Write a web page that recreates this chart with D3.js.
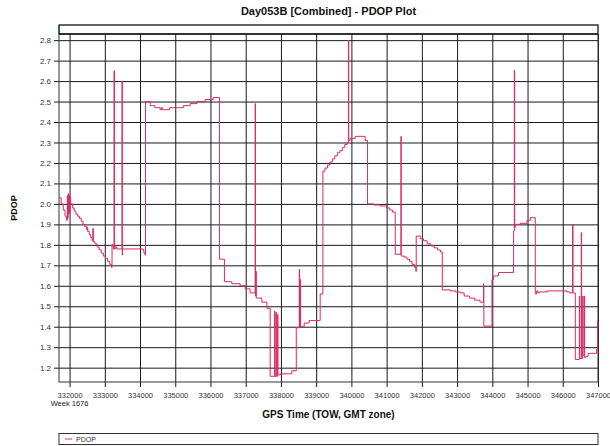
<!DOCTYPE html>
<html>
<head>
<meta charset="utf-8">
<script src="https://cdn.jsdelivr.net/npm/d3@7"></script>
<style>
  html, body { margin: 0; padding: 0; background: #fff; }
  svg { display: block; font-family: "Liberation Sans", Arial, Helvetica, sans-serif; }
</style>
</head>
<body>
<svg id="chart" width="610" height="446"></svg>
<script>
// GPS time of week (s) and PDOP samples; each sample holds until the next one.
const gpsTime = [
  331700, 331760, 331820, 331870, 331910, 331935, 331945, 331960, 331972, 331985,
  331995, 332010, 332030, 332080, 332130, 332180, 332230, 332280, 332330, 332380,
  332430, 332480, 332500, 332515, 332560, 332600, 332640, 332660, 332675, 332720,
  332780, 332840, 332900, 332960, 333020, 333080, 333140, 333190, 333205, 333240,
  333262, 333272, 333300, 333340, 333488, 333496, 333504, 334080, 334110, 334140,
  334155, 334290, 334420, 334570, 334610, 334640, 334840, 335230, 335420, 335620,
  335850, 336075, 336254, 336396, 336606, 336842, 336984, 337126, 337268, 337278,
  337290, 337300, 337458, 337600, 337694, 337820, 337830, 337860, 337870, 337905,
  337915, 337980, 338310, 338435, 338520, 338530, 338545, 338555, 338660, 338800,
  339114, 339191, 339250, 339320, 339390, 339460, 339530, 339600, 339670, 339740,
  339810, 339880, 339915, 339925, 339966, 340108, 340390, 340458, 340628, 340818,
  341008, 341090, 341170, 341244, 341406, 341415, 341500, 341576, 341650, 341720,
  341790, 341832, 341840, 341955, 342050, 342150, 342250, 342350, 342450, 342530,
  342580, 342806, 342950, 343090, 343200, 343350, 343500, 343650, 343750, 343760,
  343990, 344036, 344178, 344604, 344624, 344634, 344652, 344794, 344984, 345078,
  345220, 345260, 345290, 345330, 345552, 346120, 346200, 346280, 346290, 346356,
  346470, 346480, 346525, 346535, 346565, 346575, 346610, 346620, 346660, 346720,
  346960, 346990, 347000
];
const pdop = [
  2.03, 2.00, 1.97, 1.94, 1.92, 2.04, 1.93, 2.05, 1.95, 2.04,
  1.96, 2.03, 2.00, 1.98, 1.965, 1.95, 1.94, 1.93, 1.915, 1.90,
  1.89, 1.875, 1.885, 1.865, 1.85, 1.835, 1.82, 1.88, 1.815, 1.805,
  1.79, 1.775, 1.76, 1.745, 1.735, 1.72, 1.705, 1.69, 1.80, 1.78,
  2.65, 1.78, 1.79, 1.78, 2.60, 1.75, 1.78, 1.775, 1.76, 1.75,
  2.50, 2.48, 2.47, 2.46, 2.47, 2.46, 2.47, 2.48, 2.49, 2.50,
  2.51, 2.52, 1.73, 1.62, 1.61, 1.60, 1.585, 1.565, 2.49, 1.55,
  1.67, 1.54, 1.52, 1.49, 1.158, 1.476, 1.158, 1.47, 1.158, 1.46,
  1.165, 1.17, 1.185, 1.395, 1.68, 1.40, 1.63, 1.40, 1.418, 1.43,
  1.56, 2.16, 2.175, 2.19, 2.205, 2.22, 2.235, 2.25, 2.26, 2.275,
  2.29, 2.30, 2.80, 2.31, 2.32, 2.33, 2.31, 2.00, 1.995, 1.99,
  1.98, 1.97, 1.96, 1.754, 2.33, 1.745, 1.74, 1.73, 1.72, 1.705,
  1.69, 1.67, 1.843, 1.83, 1.82, 1.805, 1.795, 1.785, 1.775, 1.765,
  1.58, 1.575, 1.57, 1.565, 1.55, 1.54, 1.53, 1.52, 1.61, 1.403,
  1.631, 1.648, 1.665, 1.867, 2.653, 1.885, 1.90, 1.905, 1.92, 1.933,
  1.56, 1.575, 1.565, 1.57, 1.575, 1.57, 1.565, 1.90, 1.565, 1.24,
  1.55, 1.245, 1.86, 1.245, 1.55, 1.26, 1.55, 1.25, 1.255, 1.27,
  1.29, 1.43, 1.43
];

const xTicks = d3.range(332000, 347001, 1000);
const yTicks = [1.2, 1.3, 1.4, 1.5, 1.6, 1.7, 1.8, 1.9, 2.0, 2.1, 2.2, 2.3, 2.4, 2.5, 2.6, 2.7, 2.8];
const weekLabel = "Week 1676";
const seriesName = "PDOP";

const svg = d3.select("#chart");
const plot = { left: 59, right: 598, top: 34, bottom: 382 };

const x = d3.scaleLinear().domain([331700, 347000]).range([plot.left, plot.right]);
const y = d3.scaleLinear().domain([1.13, 2.83]).range([plot.bottom, plot.top]);

// Title
svg.append("text")
  .attr("x", (plot.left + plot.right) / 2).attr("y", 15)
  .attr("text-anchor", "middle")
  .attr("font-size", 11).attr("font-weight", "bold").attr("fill", "#111")
  .text("Day053B [Combined] - PDOP Plot");

// Header strip above the plot
svg.append("rect")
  .attr("x", plot.left).attr("y", 25)
  .attr("width", plot.right - plot.left).attr("height", 9)
  .attr("fill", "#fff").attr("stroke", "#333").attr("stroke-width", 1);
svg.append("line")
  .attr("x1", plot.left).attr("x2", plot.left).attr("y1", 25).attr("y2", 34)
  .attr("stroke", "#1f8a5c").attr("stroke-width", 1.5);

// Grid + axes
const gx = svg.append("g")
  .attr("transform", `translate(0,${plot.bottom})`)
  .call(d3.axisBottom(x).tickValues(xTicks).tickFormat(d3.format("d"))
    .tickSize(-(plot.bottom - plot.top)).tickSizeOuter(0));
gx.select(".domain").remove();
gx.selectAll(".tick line").attr("stroke", "#1a1a1a").attr("y2", 5)
  .attr("y1", -(plot.bottom - plot.top));
gx.selectAll(".tick text")
  .attr("y", 15.5).attr("dy", 0)
  .attr("font-size", 7.5).attr("fill", "#333")
  .attr("font-family", "Liberation Sans, Arial, sans-serif");

const gy = svg.append("g")
  .attr("transform", `translate(${plot.left},0)`)
  .call(d3.axisLeft(y).tickValues(yTicks).tickFormat(d3.format(".1f"))
    .tickSize(-(plot.right - plot.left)).tickSizeOuter(0));
gy.select(".domain").remove();
gy.selectAll(".tick line").attr("stroke", "#1a1a1a")
  .attr("x1", -5).attr("x2", plot.right - plot.left);
gy.selectAll(".tick text")
  .attr("x", -8).attr("dy", "0.32em")
  .attr("font-size", 8).attr("fill", "#333")
  .attr("font-family", "Liberation Sans, Arial, sans-serif");

// Week label under the first tick
svg.append("text")
  .attr("x", x(xTicks[0])).attr("y", 406)
  .attr("text-anchor", "middle")
  .attr("font-size", 7.5).attr("fill", "#222")
  .text(weekLabel);

// Plot frame
svg.append("rect")
  .attr("x", plot.left).attr("y", 25)
  .attr("width", plot.right - plot.left).attr("height", plot.bottom - 25)
  .attr("fill", "none").attr("stroke", "#333").attr("stroke-width", 1);
svg.append("line")
  .attr("x1", plot.left).attr("x2", plot.right).attr("y1", plot.top).attr("y2", plot.top)
  .attr("stroke", "#111").attr("stroke-width", 1.5);

// PDOP series
const data = gpsTime.map((t, i) => ({ t, v: pdop[i] }));
svg.append("path")
  .datum(data)
  .attr("fill", "none")
  .attr("stroke", "#dc2a62")
  .attr("stroke-width", 1)
  .attr("d", d3.line().x(d => x(d.t)).y(d => y(d.v)).curve(d3.curveStepAfter));

// Axis titles
svg.append("text")
  .attr("x", (plot.left + plot.right) / 2).attr("y", 418)
  .attr("text-anchor", "middle")
  .attr("font-size", 10).attr("font-weight", "bold").attr("fill", "#111")
  .text("GPS Time (TOW, GMT zone)");
svg.append("text")
  .attr("transform", `translate(17,${(plot.top + plot.bottom) / 2}) rotate(-90)`)
  .attr("text-anchor", "middle")
  .attr("font-size", 9).attr("font-weight", "bold").attr("fill", "#111")
  .text("PDOP");

// Legend
const lg = svg.append("g");
lg.append("rect")
  .attr("x", plot.left).attr("y", 433.5)
  .attr("width", plot.right - plot.left).attr("height", 11)
  .attr("fill", "#fff").attr("stroke", "#333").attr("stroke-width", 1);
lg.append("line")
  .attr("x1", 65).attr("x2", 72).attr("y1", 439).attr("y2", 439)
  .attr("stroke", "#e0507c").attr("stroke-width", 1.2);
lg.append("text")
  .attr("x", 76).attr("y", 441.5)
  .attr("font-size", 7).attr("fill", "#333")
  .text(seriesName);
</script>
</body>
</html>
